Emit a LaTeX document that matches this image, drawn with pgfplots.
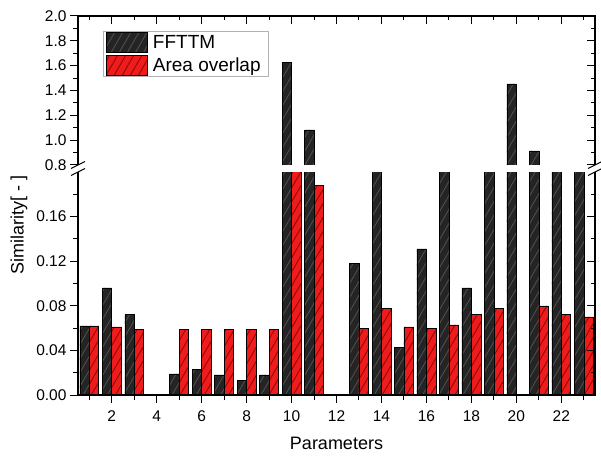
\documentclass[border=0pt]{standalone}
\usepackage{fontspec}
\setmainfont{Liberation Sans}
\usepackage{pgfplots}
\pgfplotsset{compat=1.18}
\usetikzlibrary{patterns.meta}
\definecolor{barblack}{RGB}{36,36,36}
\definecolor{hatchblack}{RGB}{78,78,78}
\definecolor{barred}{RGB}{240,28,28}
\definecolor{hatchred}{RGB}{140,10,10}

% values between 0.2 and 0.8 cannot be read (hidden by the break): 0.5 used
\pgfplotstableread{
x fft area
1 0.062 0.062
2 0.096 0.061
3 0.072 0.059
4 0 0
5 0.019 0.059
6 0.023 0.059
7 0.018 0.059
8 0.013 0.059
9 0.018 0.059
10 1.625 0.5
11 1.082 0.188
12 0 0
13 0.118 0.060
14 0.5 0.078
15 0.043 0.061
16 0.131 0.060
17 0.5 0.063
18 0.096 0.072
19 0.5 0.078
20 1.453 0
21 0.913 0.080
22 0.5 0.072
23 0.5 0.070
}\simdata

\pgfplotsset{
  simbase/.style={
    scale only axis, width=517pt,
    xmin=0.5, xmax=23.5,
    axis line style={draw=none},
    /pgf/number format/assume math mode=true,
    tick label style={font=\fontsize{15.5}{18}\selectfont},
    major tick length=8pt, minor tick length=4.5pt,
    every tick/.style={black, line width=1pt},
  },
  fftbar/.style={draw=black, line width=0.5pt, fill=barblack, bar shift=-0.21,
    postaction={pattern={Lines[angle=60,distance=7pt,line width=0.9pt]}, pattern color=hatchblack}},
  areabar/.style={draw=black, line width=0.5pt, fill=barred, bar shift=0.21,
    postaction={pattern={Lines[angle=60,distance=7pt,line width=0.9pt]}, pattern color=hatchred}},
}

\begin{document}
\begin{tikzpicture}
% lower panel
\begin{axis}[simbase, name=lower, at={(0,0)}, anchor=south west,
  height=223pt, ymin=0, ymax=0.2,
  ybar, bar width=0.42,
  tick align=outside, xtick pos=left, ytick pos=left,
  xtick={2,4,...,22}, minor xtick={1,3,...,23},
  ytick={0,0.04,0.08,0.12,0.16}, minor ytick={0.02,0.06,0.10,0.14,0.18},
  yticklabel style={/pgf/number format/.cd, fixed, fixed zerofill, precision=2},
  xticklabel style={yshift=-4pt},
  xlabel={Parameters}, ylabel={Similarity[ - ]},
  label style={font=\fontsize{18}{20}\selectfont},
  xlabel style={yshift=-9pt},
  ylabel style={at={(ticklabel cs:0.762)}, yshift=2pt},
]
\addplot[fftbar] table[x=x, y=fft] {\simdata};
\addplot[areabar] table[x=x, y=area] {\simdata};
\end{axis}
\begin{axis}[simbase, at={(0,0)}, anchor=south west,
  height=223pt, ymin=0, ymax=0.2,
  tick align=inside, ytick pos=right, xtick=\empty,
  ytick={0,0.04,0.08,0.12,0.16}, minor ytick={0.02,0.06,0.10,0.14,0.18},
  yticklabels={},
]
\end{axis}
% upper panel: only the bars above 0.8 show here
\begin{axis}[simbase, name=upper, at={(0,230pt)}, anchor=south west,
  height=149pt, ymin=0.8, ymax=2.0,
  ybar, bar width=0.42,
  tick align=outside, ytick pos=left, xtick=\empty,
  ytick={0.8,1.0,...,2.0}, minor ytick={0.9,1.1,...,1.9},
  yticklabel style={/pgf/number format/.cd, fixed, fixed zerofill, precision=1},
  legend image code/.code={\draw[#1] (0pt,-10pt) rectangle (41pt,10pt);},
  legend style={at={(rel axis cs:0.0484,0.899)}, anchor=north west,
    draw=gray!60, line width=0.8pt, inner xsep=3pt, inner ysep=1pt,
    row sep=2pt, font=\fontsize{19}{21}\selectfont,
    cells={anchor=west},
    nodes={inner xsep=5pt}},
]
\addlegendimage{fftbar}
\addlegendentry{FFTTM}
\addlegendimage{areabar}
\addlegendentry{Area overlap}
\addplot[fftbar, restrict y to domain=0.8:3, forget plot] table[x=x, y=fft] {\simdata};
\end{axis}
\begin{axis}[simbase, at={(0,230pt)}, anchor=south west,
  height=149pt, ymin=0.8, ymax=2.0,
  tick align=inside, xtick pos=right, ytick pos=right,
  xtick={2,4,...,22}, minor xtick={1,3,...,23},
  ytick={0.8,1.0,...,2.0}, minor ytick={0.9,1.1,...,1.9},
  xticklabels={}, yticklabels={},
]
\end{axis}
% frame lines, open at the break
\draw[line width=1.2pt] (upper.south west) -- (upper.north west) -- (upper.north east) -- (upper.south east);
\draw[line width=1.2pt] (lower.north west) -- (lower.south west) -- (lower.south east) -- (lower.north east);
% break marks
\foreach \p in {lower.north west, upper.south west, lower.north east, upper.south east}
  \draw[line width=1pt] ([shift={(-7pt,-3.5pt)}]\p) -- ++(14pt,7pt);
\pgfresetboundingbox
\path (lower.south west) ++(-78pt,-60pt) rectangle ++(601pt,455pt);
\end{tikzpicture}
\end{document}
